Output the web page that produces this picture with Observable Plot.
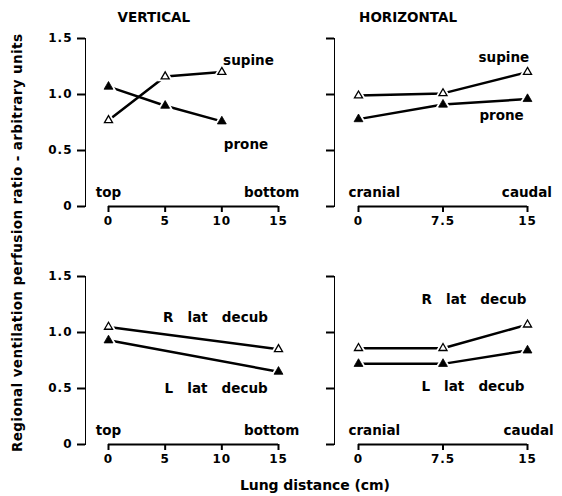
<!DOCTYPE html>
<html>
<head>
<meta charset="utf-8">
<script src="https://cdn.jsdelivr.net/npm/d3@7"></script>
<script src="https://cdn.jsdelivr.net/npm/@observablehq/plot@0.6"></script>
<style>
  body { margin: 0; background: #fff; }
  #chart { position: relative; width: 562px; height: 496px; background: #fff; color: #000; overflow: hidden;
           font-family: "DejaVu Sans", sans-serif; font-weight: bold; }
  #chart svg { position: absolute; overflow: visible; background: transparent; }
  #chart g[aria-label^="y-axis"] path, #chart g[aria-label^="y-axis"] line,
  #chart g[aria-label^="x-axis"] path, #chart g[aria-label^="x-axis"] line { stroke-width: 2px; }
  #chart g[aria-label^="y-axis"] text, #chart g[aria-label^="x-axis"] text { letter-spacing: 1px; }
</style>
</head>
<body>
<div id="chart"></div>
<script>
// ---- data ----
const yTicks = [0, 0.5, 1.0, 1.5];
const verticalTicks = [0, 5, 10, 15];
const horizontalTicks = [0, 7.5, 15];

// top row: supine / prone
const verticalX = [0, 5, 10];
const verticalSupine = [0.77, 1.16, 1.20];
const verticalProne = [1.07, 0.90, 0.76];
const horizontalX = [0, 7.5, 15];
const horizontalSupine = [0.99, 1.01, 1.20];
const horizontalProne = [0.78, 0.91, 0.96];

// bottom row: lateral decubitus
const decubVerticalX = [0, 15];
const verticalRLat = [1.05, 0.85];
const verticalLLat = [0.93, 0.65];
const decubHorizontalX = [0, 7.5, 15];
const horizontalRLat = [0.86, 0.86, 1.07];
const horizontalLLat = [0.72, 0.72, 0.84];

const panelTitles = [{text: "VERTICAL", x: 4.0}, {text: "HORIZONTAL", x: 4.4}];

const topLeftLabels = [
  {text: "supine", x: 12.35, y: 1.30}, {text: "prone", x: 12.13, y: 0.55},
  {text: "top", x: 0, y: 0.12}, {text: "bottom", x: 14.4, y: 0.12}];
const topRightLabels = [
  {text: "supine", x: 12.9, y: 1.33}, {text: "prone", x: 12.7, y: 0.81},
  {text: "cranial", x: 1.4, y: 0.12}, {text: "caudal", x: 14.95, y: 0.12}];
const bottomLeftLabels = [
  {text: "R   lat   decub", x: 9.44, y: 1.13}, {text: "L   lat   decub", x: 9.5, y: 0.50},
  {text: "top", x: 0, y: 0.12}, {text: "bottom", x: 14.4, y: 0.12}];
const bottomRightLabels = [
  {text: "R   lat   decub", x: 10.25, y: 1.29}, {text: "L   lat   decub", x: 10.16, y: 0.52},
  {text: "cranial", x: 1.4, y: 0.12}, {text: "caudal", x: 15.1, y: 0.12}];

const yTitle = "Regional ventilation perfusion ratio - arbitrary units";
const xTitle = "Lung distance (cm)";

// ---- helpers ----
const toRows = (xs, ys) => xs.map((x, i) => ({x, y: ys[i]}));

function panel({xTicks, open, filled, labels, title, left, top, marginLeft, marginRight, insetLeft, yLabels}) {
  const all = open.concat(filled);
  const svg = Plot.plot({
    width: 281, height: 248,
    marginLeft, marginRight, marginTop: 38, marginBottom: 42,
    style: {fontFamily: "DejaVu Sans, sans-serif", fontSize: "12px", fontWeight: "bold", background: "transparent", overflow: "visible", color: "black"},
    x: {domain: [xTicks[0], xTicks[xTicks.length - 1]], ticks: xTicks, tickFormat: d => String(d),
        insetLeft, tickSize: 6, tickPadding: 4, label: null},
    y: {domain: [0, 1.5], ticks: yTicks, tickFormat: yLabels ? (d => d === 0 ? "0" : d.toFixed(1)) : (() => ""),
        tickSize: 8, tickPadding: 5, line: true, label: null},
    marks: [
      Plot.ruleY([0], {x1: xTicks[0], x2: xTicks[xTicks.length - 1], stroke: "black", strokeWidth: 2}),
      Plot.line(open, {x: "x", y: "y", stroke: "black", strokeWidth: 2.5}),
      Plot.line(filled, {x: "x", y: "y", stroke: "black", strokeWidth: 2.5}),
      Plot.dot(all, {x: "x", y: "y", symbol: "triangle", r: 4.2, fill: "white", stroke: "white", strokeWidth: 3}),
      Plot.dot(filled, {x: "x", y: "y", symbol: "triangle", r: 3.3, fill: "black", stroke: "black", strokeWidth: 0.8}),
      Plot.dot(open, {x: "x", y: "y", symbol: "triangle", r: 3.0, fill: "white", stroke: "black", strokeWidth: 1.3}),
      Plot.text(labels, {x: "x", y: "y", text: "text", fontSize: 13.5, fontWeight: "bold", fill: "black", textAnchor: "middle"}),
      title ? Plot.text([title], {x: "x", text: "text", frameAnchor: "top", lineAnchor: "middle", dy: -21,
                                  fontSize: 13.5, fontWeight: "bold", fill: "black", style: "letter-spacing:1.5px"}) : null
    ]
  });
  svg.style.left = left + "px";
  svg.style.top = top + "px";
  svg.style.position = "absolute";
  document.getElementById("chart").appendChild(svg);
  return svg;
}

panel({xTicks: verticalTicks, open: toRows(verticalX, verticalSupine), filled: toRows(verticalX, verticalProne),
       labels: topLeftLabels, title: panelTitles[0], left: 0, top: 0, marginLeft: 85, marginRight: 3, insetLeft: 23, yLabels: true});
panel({xTicks: horizontalTicks, open: toRows(horizontalX, horizontalSupine), filled: toRows(horizontalX, horizontalProne),
       labels: topRightLabels, title: panelTitles[1], left: 281, top: 0, marginLeft: 53, marginRight: 35, insetLeft: 24, yLabels: false});
panel({xTicks: verticalTicks, open: toRows(decubVerticalX, verticalRLat), filled: toRows(decubVerticalX, verticalLLat),
       labels: bottomLeftLabels, title: null, left: 0, top: 238, marginLeft: 85, marginRight: 3, insetLeft: 23, yLabels: true});
panel({xTicks: horizontalTicks, open: toRows(decubHorizontalX, horizontalRLat), filled: toRows(decubHorizontalX, horizontalLLat),
       labels: bottomRightLabels, title: null, left: 281, top: 238, marginLeft: 53, marginRight: 35, insetLeft: 24, yLabels: false});

// axis titles
const over = d3.select("#chart").append("svg")
  .attr("width", 562).attr("height", 496)
  .style("left", "0px").style("top", "0px")
  .attr("font-family", "DejaVu Sans, sans-serif").attr("font-weight", "bold").attr("fill", "black");
over.append("text")
  .attr("transform", "translate(18,243) rotate(-90)")
  .attr("text-anchor", "middle").attr("dominant-baseline", "middle")
  .attr("font-size", 13.5).attr("textLength", 418).attr("lengthAdjust", "spacing")
  .text(yTitle);
over.append("text")
  .attr("x", 315).attr("y", 486)
  .attr("text-anchor", "middle").attr("dominant-baseline", "middle")
  .attr("font-size", 14).attr("textLength", 150).attr("lengthAdjust", "spacing")
  .text(xTitle);
</script>
</body>
</html>
